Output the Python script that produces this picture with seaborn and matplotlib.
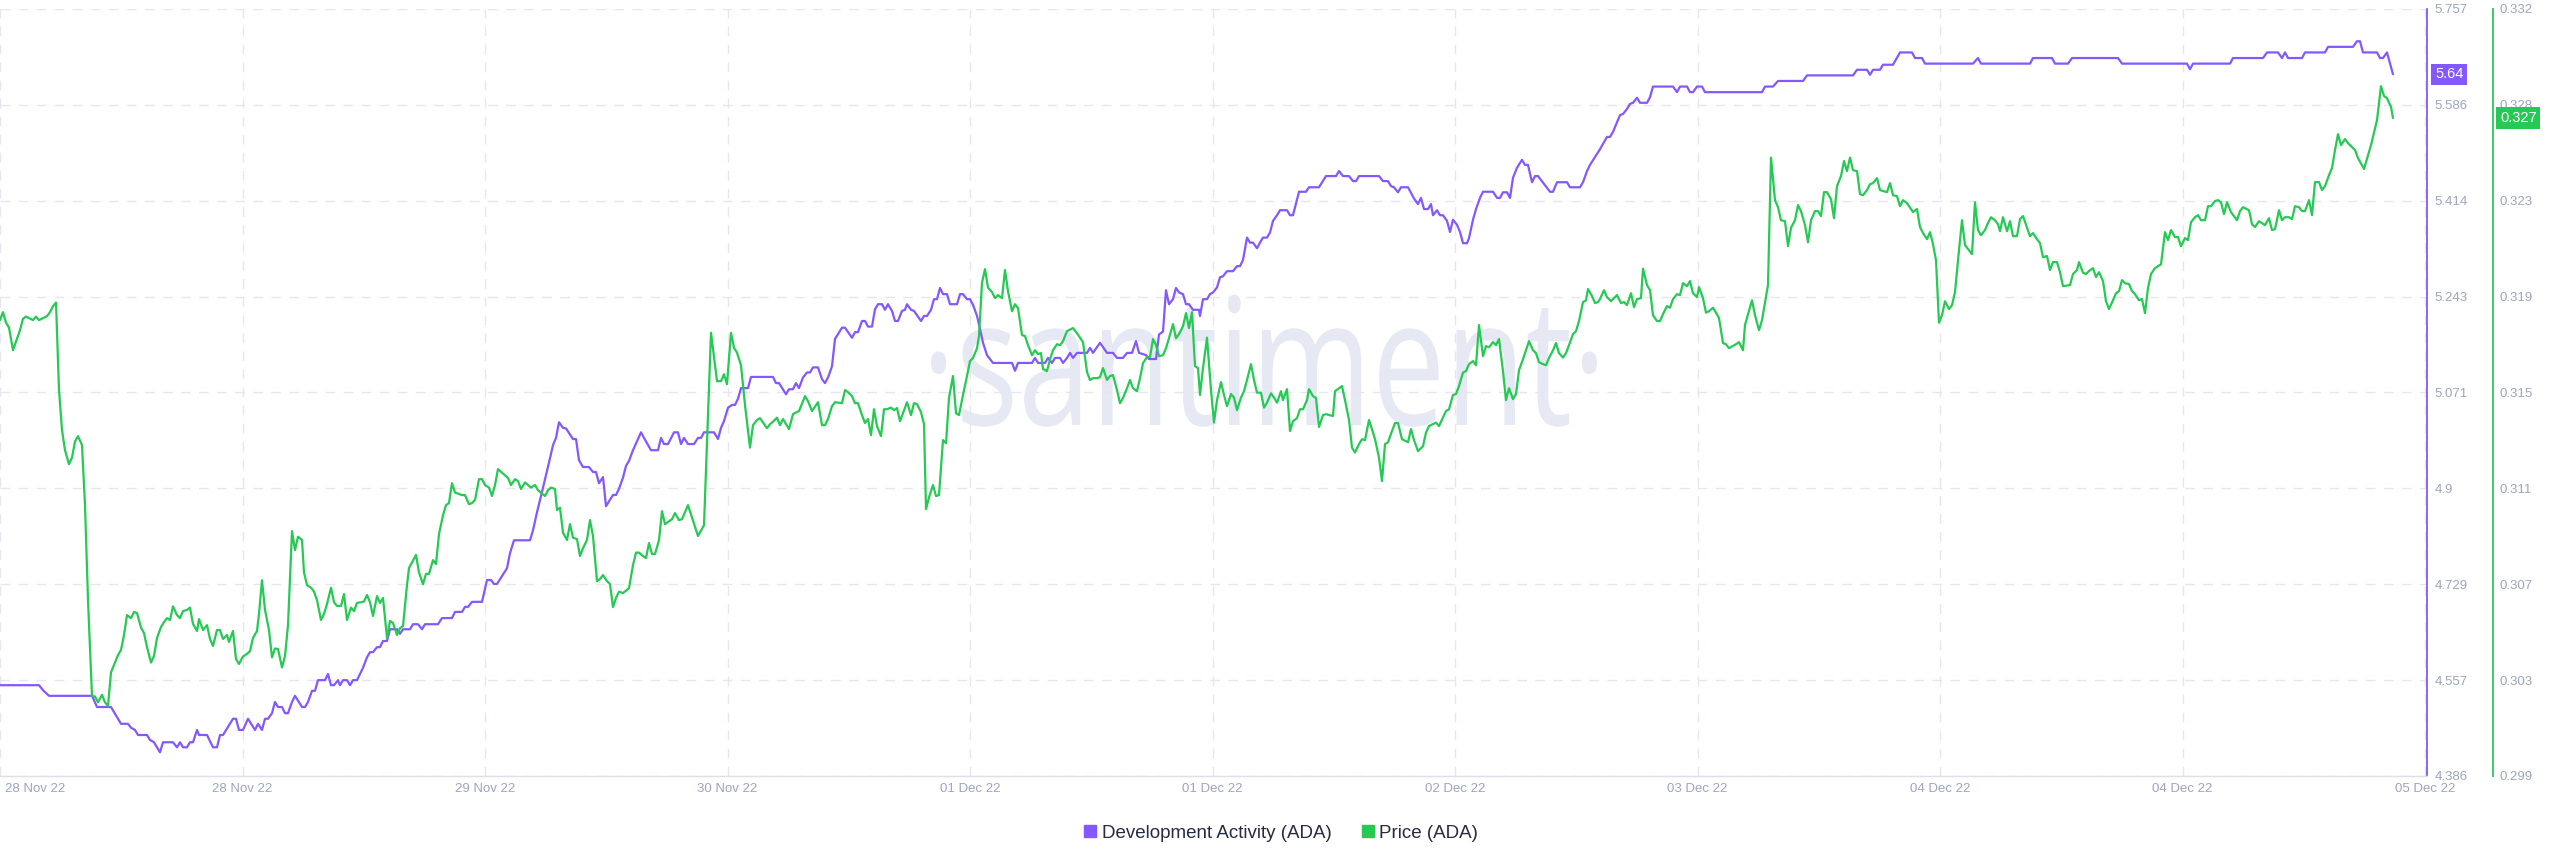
import numpy as np
import pandas as pd
import matplotlib
matplotlib.use("Agg")
import matplotlib.pyplot as plt
import matplotlib.transforms as mtrans
from matplotlib.lines import Line2D
from matplotlib.textpath import TextPath
from matplotlib.patches import PathPatch
from matplotlib.font_manager import FontProperties
import seaborn as sns

# ---------------- data ----------------
# time axis: one unit ~ 41.6 minutes from the start of 28 Nov 22
dev_t = [0.0, 3.9, 4.3, 4.9, 9.2, 9.7, 11.1, 12.1, 12.8, 13.1, 13.5, 13.8, 14.7, 15.0, 15.4, 16.0, 16.3, 17.3,
         17.7, 18.0, 18.3, 18.7, 19.0, 19.3, 19.7, 19.9, 20.7, 21.3, 21.7, 22.0, 22.3, 23.3, 23.6, 23.9, 24.3,
         24.8, 25.5, 25.8, 26.2, 26.5, 26.8, 27.2, 27.5, 27.8, 28.2, 28.5, 28.8, 29.2, 29.5, 30.2, 30.5, 30.8,
         31.2, 31.5, 31.8, 32.5, 32.8, 33.1, 33.4, 33.8, 34.0, 34.3, 34.7, 35.0, 35.3, 35.7, 36.3, 36.7, 37.0,
         37.3, 37.7, 38.0, 38.3, 38.7, 39.0, 39.7, 40.0,
         40.3, 41.0, 41.3, 41.8, 42.2, 42.5, 43.8, 44.2, 45.2, 45.5, 46.2, 46.5, 46.8, 47.2, 48.2, 48.7, 49.1,
         49.4, 49.7, 50.7, 51.0, 51.4, 53.0, 53.3, 53.7, 54.3, 54.9, 55.3, 55.6, 55.9, 56.3, 56.6, 57.3, 57.6,
         57.9, 58.3, 58.9, 59.3, 59.6, 59.9, 60.3, 60.6, 61.3, 61.6, 61.9, 62.3, 62.6, 62.9, 63.3, 64.1, 64.4,
         65.1, 65.8, 66.1, 66.4, 66.8, 67.4, 67.8, 68.1, 68.4, 68.8, 69.4, 69.8, 70.1, 70.4, 71.4, 71.8, 72.1,
         72.4, 72.8, 73.2, 73.5, 73.8, 74.1, 74.8, 75.1, 77.3, 77.6, 77.9, 78.6, 78.9, 79.3, 79.6, 79.9,
         80.3, 80.7, 81.0, 81.3, 81.8, 82.2, 82.5, 82.8, 83.2, 83.5, 84.2, 84.5, 85.2, 85.5, 85.8, 86.2, 86.5,
         86.8, 87.2, 87.5, 87.8, 88.2, 88.5, 88.8, 89.2, 89.5, 89.8, 90.2, 90.5, 90.7, 91.1, 91.4, 92.1, 92.4,
         92.7, 93.1, 93.4, 93.7, 94.0, 94.3, 94.7, 95.0, 95.7, 96.0, 96.3, 96.7, 97.0, 97.3, 97.7, 98.0, 98.3,
         98.7, 99.3, 101.2, 101.5, 101.8, 103.2, 103.5, 103.8, 104.5, 104.8, 105.2, 105.5, 106.0, 106.3, 106.7,
         107.0, 107.3, 107.7, 108.7, 109.0, 109.3, 110.0, 110.7, 111.3, 111.7, 112.3, 112.7, 113.2, 113.6,
         113.9, 114.6, 114.9, 115.6, 115.9, 116.3, 116.6, 116.9, 117.3, 117.6, 117.9, 118.3, 118.6, 118.9,
         119.3, 119.9,
         120.0, 120.3, 120.7, 121.0, 121.3, 121.7, 122.0, 122.3, 122.7, 123.3, 123.7, 124.0, 124.3, 124.7,
         125.0, 125.3, 125.7, 126.0, 126.3, 126.7, 127.0, 127.3, 127.7, 128.0, 128.7, 129.0, 129.3, 129.9,
         130.6, 130.9, 131.9, 132.6, 133.6, 133.9, 134.3, 134.9, 135.3, 135.6, 135.9, 137.9, 138.3, 138.8,
         139.1, 139.4, 139.8, 140.1, 140.8, 141.4, 141.8, 142.1, 142.4, 142.8, 143.1, 143.3, 143.7, 144.0,
         144.3, 144.7, 145.0, 145.3, 145.7, 146.0, 146.3, 146.7, 146.9, 147.3, 147.6, 148.0, 148.3, 149.3,
         149.7, 150.0, 150.3, 150.7, 151.0, 151.3, 151.7, 152.2, 152.5, 152.8, 153.2, 153.5, 153.8, 155.0,
         155.3, 155.7, 156.7, 157.0, 158.0, 158.3, 158.7, 159.0,
         160.0, 160.7, 161.0, 161.3, 162.0, 162.3, 162.7, 163.0, 163.3, 163.7, 164.0, 164.7, 165.0, 165.3,
         167.3, 167.7, 168.0, 168.7, 169.0, 169.3, 169.7, 170.2, 170.5, 176.2, 176.5, 177.3, 177.8, 180.3,
         180.7, 185.3, 185.7, 186.7, 187.0, 187.3, 188.0, 188.3, 189.3, 190.0, 191.2, 191.5, 192.2, 192.5,
         197.3, 197.8, 198.1,
         200.0, 203.0, 203.3, 205.2, 205.5, 206.8, 207.2, 211.8, 212.2, 218.7, 219.0, 219.3, 223.0, 223.3,
         226.3, 226.7, 227.8, 228.2, 228.5, 228.8, 230.2, 230.5, 232.5, 232.8, 235.3, 235.7, 236.0, 236.3,
         237.7, 238.0, 238.3, 238.7, 239.3]
dev_activity = [4.548, 4.548, 4.539, 4.529, 4.529, 4.509, 4.509, 4.479, 4.479, 4.472, 4.468, 4.459, 4.459, 4.450,
                4.446, 4.428, 4.446, 4.446, 4.437, 4.446, 4.437, 4.437, 4.446, 4.446, 4.468, 4.459, 4.459, 4.437,
                4.437, 4.459, 4.459, 4.488, 4.488, 4.468, 4.468, 4.488, 4.468, 4.479, 4.468, 4.488, 4.488, 4.498,
                4.518, 4.509, 4.509, 4.498, 4.498, 4.518, 4.529, 4.509, 4.509, 4.518, 4.538, 4.538, 4.557, 4.557,
                4.568, 4.548, 4.548, 4.557, 4.548, 4.557, 4.557, 4.548, 4.557, 4.557, 4.579, 4.598, 4.607, 4.607,
                4.616, 4.616, 4.627, 4.627, 4.648, 4.648, 4.640,
                4.648, 4.648, 4.657, 4.657, 4.648, 4.657, 4.657, 4.668, 4.668, 4.679, 4.679, 4.688, 4.688, 4.697,
                4.697, 4.736, 4.736, 4.729, 4.729, 4.757, 4.784, 4.807, 4.807, 4.825, 4.857, 4.901, 4.946, 4.977,
                4.990, 5.018, 5.008, 5.007, 4.988, 4.988, 4.950, 4.938, 4.938, 4.929, 4.929, 4.909, 4.920, 4.868,
                4.888, 4.888, 4.899, 4.919, 4.940, 4.949, 4.968, 5.000, 4.990, 4.968, 4.968, 4.990, 4.979, 4.979,
                5.000, 5.000, 4.979, 4.990, 4.979, 4.979, 4.990, 4.990, 5.000, 5.000, 4.988, 5.008, 5.020, 5.044,
                5.049, 5.049, 5.060, 5.079, 5.079, 5.099, 5.099, 5.088, 5.088, 5.068, 5.077, 5.077, 5.088, 5.079,
                5.098, 5.107, 5.107, 5.116, 5.116, 5.095, 5.088, 5.098, 5.118, 5.167, 5.187, 5.187, 5.169, 5.179,
                5.179, 5.199, 5.199, 5.189, 5.189, 5.220, 5.229, 5.229, 5.219, 5.229, 5.217, 5.199, 5.199, 5.217,
                5.219, 5.229, 5.219, 5.217, 5.199, 5.208, 5.208, 5.219, 5.238, 5.238, 5.258, 5.247, 5.247, 5.229,
                5.229, 5.247, 5.247, 5.238, 5.238, 5.228, 5.208, 5.185, 5.160, 5.138, 5.124, 5.124, 5.110, 5.124,
                5.124, 5.133, 5.124, 5.124, 5.133, 5.124, 5.133, 5.133, 5.124, 5.133, 5.142, 5.133, 5.142, 5.142,
                5.151, 5.142, 5.160, 5.142, 5.142, 5.133, 5.133, 5.142, 5.142, 5.163, 5.142, 5.138, 5.131, 5.131,
                5.175, 5.180, 5.254, 5.229, 5.238, 5.258, 5.250, 5.247, 5.229, 5.229, 5.219, 5.219,
                5.208, 5.238, 5.238, 5.247, 5.250, 5.259, 5.277, 5.279, 5.288, 5.288, 5.297, 5.297, 5.308, 5.348,
                5.339, 5.339, 5.329, 5.339, 5.348, 5.348, 5.357, 5.378, 5.388, 5.397, 5.397, 5.388, 5.388, 5.430,
                5.430, 5.438, 5.438, 5.458, 5.458, 5.467, 5.458, 5.458, 5.449, 5.449, 5.458, 5.458, 5.449, 5.449,
                5.440, 5.438, 5.429, 5.438, 5.438, 5.418, 5.408, 5.419, 5.399, 5.399, 5.408, 5.388, 5.397, 5.388,
                5.388, 5.378, 5.358, 5.380, 5.371, 5.358, 5.338, 5.338, 5.347, 5.380, 5.399, 5.419, 5.430, 5.430,
                5.419, 5.419, 5.429, 5.429, 5.419, 5.455, 5.473, 5.487, 5.478, 5.478, 5.447, 5.458, 5.458, 5.430,
                5.430, 5.447, 5.447, 5.438, 5.438, 5.447, 5.467, 5.478,
                5.506, 5.528, 5.528, 5.537, 5.567, 5.569, 5.578, 5.587, 5.589, 5.598, 5.589, 5.589, 5.599, 5.618,
                5.618, 5.608, 5.618, 5.618, 5.608, 5.608, 5.618, 5.618, 5.608, 5.608, 5.618, 5.618, 5.628, 5.628,
                5.638, 5.638, 5.648, 5.648, 5.639, 5.648, 5.648, 5.657, 5.657, 5.679, 5.679, 5.669, 5.669, 5.659,
                5.659, 5.669, 5.659,
                5.659, 5.659, 5.669, 5.669, 5.659, 5.659, 5.669, 5.669, 5.659, 5.659, 5.649, 5.659, 5.659, 5.669,
                5.669, 5.679, 5.679, 5.669, 5.679, 5.669, 5.669, 5.679, 5.679, 5.689, 5.689, 5.699, 5.699, 5.679,
                5.679, 5.669, 5.669, 5.679, 5.640]

price_t = [0.0, 0.3, 0.6, 0.9, 1.3, 2.0, 2.3, 2.6, 3.3, 3.6, 3.9, 4.7, 5.0, 5.3, 5.6, 5.9, 6.2, 6.5, 6.9, 7.2,
           7.5, 7.8, 8.2, 8.5, 8.8, 9.2, 9.5, 9.8, 10.2, 10.5, 10.8, 11.1, 11.5, 11.8, 12.1, 12.4, 12.7, 13.1,
           13.4, 13.7, 14.1, 14.4, 14.7, 15.1, 15.4, 15.7, 16.1, 16.4, 16.7, 17.0, 17.3, 17.7, 18.0, 18.3, 18.7,
           19.0, 19.3, 19.7, 19.9, 20.3, 20.7, 21.0, 21.3, 21.7, 22.0, 22.3, 22.7, 22.9, 23.3, 23.6, 23.9, 24.3,
           24.7, 25.0, 25.3, 25.7, 25.9, 26.2, 26.5, 26.9, 27.2, 27.5, 27.8, 28.2, 28.5, 28.8, 29.2, 29.5, 29.8,
           30.2, 30.4, 30.7, 31.1, 31.4, 31.7, 32.1, 32.4, 32.7, 33.1, 33.4, 33.7, 34.1, 34.4, 34.7, 35.1, 35.4,
           35.7, 36.1, 36.4, 36.7, 37.0, 37.3, 37.7, 38.0, 38.3, 38.7, 39.0, 39.3, 39.7, 40.0,
           40.3, 40.7, 40.9, 41.6, 41.9, 42.3, 42.6, 42.9, 43.3, 43.6, 43.9, 44.3, 44.6, 44.9, 45.2, 45.5, 46.2,
           46.5, 46.9, 47.2, 47.5, 47.9, 48.2, 48.5, 48.9, 49.2, 49.5, 49.8, 50.8, 51.1, 51.5, 51.8, 52.1, 52.5,
           53.1, 53.5, 53.8, 54.5, 54.8, 55.1, 55.5, 55.7, 56.0, 56.3, 56.7, 57.0, 57.3, 57.7, 58.0, 58.3, 58.7,
           59.0, 59.3, 59.7, 60.0, 60.3, 60.7, 61.0, 61.3, 61.6, 61.9, 62.3, 62.9, 63.3, 63.6, 63.9, 64.3, 64.6,
           64.9, 65.2, 65.5, 65.9, 66.2, 66.5, 67.2, 67.5, 67.9, 68.2, 68.8, 69.8, 70.4, 71.1, 71.7, 72.1, 72.4,
           72.7, 73.1, 73.4, 73.7, 74.1, 74.5, 75.0, 75.3, 75.7, 76.0, 76.7, 77.0, 77.3, 77.7, 78.0, 78.3, 78.9,
           79.3, 79.6, 79.9,
           80.5, 80.8, 81.2, 81.8, 82.2, 82.5, 82.8, 83.2, 83.5, 84.2, 84.5, 84.8, 85.2, 85.5, 85.8, 86.2, 86.5,
           86.8, 87.1, 87.4, 87.7, 88.1, 88.4, 88.7, 89.1, 89.4, 89.7, 90.0, 90.3, 90.7, 91.1, 91.4, 91.7, 92.1,
           92.4, 92.6, 92.9, 93.3, 93.6, 93.9, 94.3, 94.6, 94.9, 95.3, 95.6, 95.9, 96.3, 96.7, 97.0, 97.3, 97.7,
           97.9, 98.2, 98.5, 98.8, 99.2, 99.5, 99.8, 100.2, 100.5, 100.8, 101.2, 101.5, 101.8, 102.2, 102.5,
           102.8, 103.2, 103.5, 103.8, 104.1, 104.3, 104.7, 105.0, 105.3, 105.7, 106.0, 106.3, 106.7, 107.3,
           107.7, 108.3, 108.7, 109.0, 109.3, 109.7, 110.0, 110.3, 110.7, 111.0, 111.3, 111.7, 112.0, 112.3,
           112.7, 113.0, 113.3, 113.7, 114.0, 114.3, 114.7, 115.0, 115.3, 115.6, 115.9, 116.3, 116.6, 116.9,
           117.3, 117.6, 117.9, 118.3, 118.6, 118.9, 119.2, 119.5, 119.8,
           120.0, 120.3, 120.7, 121.1, 121.4, 121.7, 122.1, 122.4, 122.7, 123.1, 123.4, 123.7, 124.1, 124.4,
           124.7, 125.1, 125.4, 125.7, 126.1, 126.4, 126.7, 127.1, 127.4, 127.7, 128.1, 128.3, 128.7, 129.0,
           129.3, 129.7, 130.0, 130.3, 130.7, 130.9, 131.3, 131.6, 131.9, 132.3, 132.6, 133.3, 133.5, 134.2,
           134.5, 134.9, 135.2, 135.5, 135.9, 136.2, 136.5, 136.9, 137.2, 137.5, 137.9, 138.2, 138.5, 138.8,
           139.2, 139.5, 139.8, 140.2, 140.8, 141.1, 141.4, 141.8, 142.3, 142.6, 142.9, 143.6, 143.9, 144.6,
           144.9, 145.3, 145.6, 145.9, 146.3, 146.6, 146.9, 147.3, 147.6, 147.9, 148.3, 148.6, 148.9, 149.3,
           149.6, 149.9, 150.3, 150.6, 150.9, 151.3, 151.6, 151.9, 152.3, 152.6, 152.9, 153.3, 153.6, 153.9,
           154.3, 154.6, 154.9, 155.3, 155.6, 155.9, 156.3, 156.6, 156.9, 157.3, 157.6, 157.9, 158.3, 158.6,
           158.8, 159.2, 159.5, 159.8,
           160.0, 160.4, 160.7, 161.1, 161.7, 162.1, 162.4, 162.7, 163.1, 163.4, 163.7, 164.1, 164.3, 164.7,
           165.0, 165.3, 165.7, 166.0, 166.3, 166.7, 167.0, 167.3, 167.7, 168.0, 168.3, 168.7, 169.0, 169.3,
           169.7, 169.9, 170.3, 170.6, 170.9, 171.3, 171.6, 171.9, 172.3, 172.6, 172.9, 173.6, 173.9, 174.3,
           174.5, 175.2, 175.5, 175.9, 176.2, 176.8, 177.1, 177.5, 177.8, 178.1, 178.5, 178.8, 179.1, 179.5,
           179.8, 180.1, 180.5, 180.8, 181.1, 181.5, 181.8, 182.1, 182.4, 182.7, 183.1, 183.4, 183.7, 184.1,
           184.4, 184.7, 185.0, 185.3, 185.7, 186.0, 186.3, 186.7, 187.0, 187.3, 187.7, 188.0, 188.7, 189.0,
           189.3, 189.7, 190.0, 190.3, 190.7, 191.3, 191.7, 192.0, 192.3, 192.7, 193.0, 193.3, 193.6, 193.9,
           194.2, 194.5, 194.9, 195.2, 195.5, 195.9, 196.2, 196.5, 196.9, 197.2, 197.5, 197.8, 198.1, 198.5,
           198.8, 199.1, 199.5, 199.8,
           200.0, 200.3, 200.7, 201.0, 201.3, 201.7, 202.0, 202.3, 203.0, 203.3, 203.7, 204.0, 204.3, 204.7,
           205.0, 205.3, 205.7, 206.0, 206.3, 207.0, 207.3, 207.7, 207.9, 208.3, 208.6, 208.9, 209.3, 209.6,
           209.9, 210.3, 210.6, 210.9, 211.3, 211.6, 211.9, 212.2, 212.5, 212.9, 213.2, 213.5, 213.9, 214.2,
           214.5, 214.8, 215.1, 215.5, 216.1, 216.5, 216.8, 217.1, 217.5, 217.8, 218.1, 218.5, 218.8, 219.1,
           219.5, 219.8, 220.1, 220.5, 220.8, 221.1, 221.5, 221.8, 222.1, 222.4, 222.7, 223.1, 223.7, 224.0,
           224.3, 224.9, 225.2, 225.5, 225.9, 226.5, 226.9, 227.2, 227.5, 227.9, 228.2, 228.5, 228.9, 229.2,
           229.5, 229.9, 230.2, 230.5, 230.9, 231.2, 231.5, 231.9, 232.2, 232.5, 232.9, 233.2, 233.5, 233.8,
           234.1, 234.5, 234.8, 235.5, 235.8, 236.4, 237.1, 237.7, 238.1, 238.4, 238.7, 239.1, 239.3]
price = [0.31834, 0.31868, 0.31823, 0.31802, 0.31705, 0.31791, 0.31840, 0.31849, 0.31834, 0.31849, 0.31834,
         0.31851, 0.31868, 0.31894, 0.31909, 0.31535, 0.31364, 0.31278, 0.31218, 0.31246, 0.31315, 0.31338,
         0.31300, 0.31043, 0.30637, 0.30227, 0.30225, 0.30200, 0.30232, 0.30200, 0.30185, 0.30328, 0.30370,
         0.30402, 0.30424, 0.30488, 0.30573, 0.30560, 0.30586, 0.30582, 0.30520, 0.30496, 0.30436, 0.30370,
         0.30398, 0.30475, 0.30522, 0.30543, 0.30560, 0.30552, 0.30610, 0.30573, 0.30560, 0.30590, 0.30595,
         0.30605, 0.30535, 0.30505, 0.30556, 0.30509, 0.30530, 0.30471, 0.30441, 0.30509, 0.30509, 0.30471,
         0.30488, 0.30458, 0.30505, 0.30385, 0.30364, 0.30396, 0.30407, 0.30419, 0.30475, 0.30505, 0.30578,
         0.30722, 0.30595, 0.30509, 0.30392, 0.30430, 0.30428, 0.30349, 0.30398, 0.30530, 0.30932, 0.30851,
         0.30908, 0.30894, 0.30755, 0.30701, 0.30690, 0.30673, 0.30637, 0.30552, 0.30578, 0.30620, 0.30690,
         0.30628, 0.30612, 0.30612, 0.30663, 0.30552, 0.30605, 0.30590, 0.30625, 0.30628, 0.30631, 0.30659,
         0.30628, 0.30569, 0.30654, 0.30625, 0.30646, 0.30475, 0.30548, 0.30539, 0.30488, 0.30517,
         0.30526, 0.30701, 0.30774, 0.30830, 0.30755, 0.30705, 0.30749, 0.30749, 0.30808, 0.30791, 0.30919,
         0.31000, 0.31043, 0.31052, 0.31137, 0.31097, 0.31086, 0.31086, 0.31047, 0.31052, 0.31065, 0.31154,
         0.31154, 0.31129, 0.31118, 0.31082, 0.31129, 0.31197, 0.31159, 0.31129, 0.31154, 0.31146, 0.31112,
         0.31140, 0.31118, 0.31129, 0.31107, 0.31082, 0.31107, 0.31118, 0.31112, 0.31022, 0.31032, 0.30925,
         0.30894, 0.30962, 0.30904, 0.30898, 0.30825, 0.30859, 0.30894, 0.30979, 0.30911, 0.30718, 0.30727,
         0.30744, 0.30718, 0.30705, 0.30607, 0.30646, 0.30673, 0.30667, 0.30688, 0.30787, 0.30840, 0.30840,
         0.30825, 0.30817, 0.30881, 0.30834, 0.30834, 0.30894, 0.31017, 0.30962, 0.30983, 0.31009, 0.30979,
         0.30983, 0.31043, 0.30911, 0.30957, 0.31780, 0.31573, 0.31573, 0.31603, 0.31560, 0.31780, 0.31716,
         0.31695, 0.31641, 0.31471, 0.31289, 0.31385, 0.31407, 0.31415, 0.31372, 0.31389, 0.31400, 0.31417,
         0.31385, 0.31411, 0.31368, 0.31432, 0.31439, 0.31445,
         0.31509, 0.31488, 0.31445, 0.31483, 0.31385, 0.31385, 0.31411, 0.31466, 0.31483, 0.31479, 0.31535,
         0.31526, 0.31509, 0.31479, 0.31479, 0.31428, 0.31394, 0.31411, 0.31342, 0.31453, 0.31381, 0.31338,
         0.31453, 0.31453, 0.31460, 0.31449, 0.31458, 0.31402, 0.31436, 0.31483, 0.31428, 0.31479, 0.31475,
         0.31441, 0.31389, 0.31026, 0.31076, 0.31129, 0.31082, 0.31086, 0.31321, 0.31308, 0.31501, 0.31595,
         0.31436, 0.31428, 0.31514, 0.31595, 0.31659, 0.31672, 0.31714, 0.31766, 0.31994, 0.32052, 0.31973,
         0.31954, 0.31928, 0.31941, 0.31928, 0.32048, 0.31958, 0.31872, 0.31902, 0.31885, 0.31770, 0.31766,
         0.31727, 0.31684, 0.31705, 0.31689, 0.31693, 0.31625, 0.31616, 0.31667, 0.31705, 0.31731, 0.31727,
         0.31744, 0.31787, 0.31800, 0.31778, 0.31740, 0.31612, 0.31578, 0.31586, 0.31586, 0.31590, 0.31629,
         0.31578, 0.31595, 0.31599, 0.31535, 0.31479, 0.31501, 0.31543, 0.31578, 0.31543, 0.31530, 0.31586,
         0.31650, 0.31676, 0.31676, 0.31753, 0.31727, 0.31680, 0.31684, 0.31714, 0.31757, 0.31817, 0.31757,
         0.31774, 0.31808, 0.31864, 0.31800, 0.31868, 0.31637, 0.31629,
         0.31514, 0.31629, 0.31759, 0.31535, 0.31396, 0.31492, 0.31569, 0.31514, 0.31466, 0.31518, 0.31503,
         0.31449, 0.31503, 0.31530, 0.31578, 0.31646, 0.31578, 0.31524, 0.31524, 0.31460, 0.31481, 0.31521,
         0.31503, 0.31481, 0.31530, 0.31492, 0.31539, 0.31360, 0.31402, 0.31415, 0.31453, 0.31453, 0.31492,
         0.31539, 0.31509, 0.31501, 0.31377, 0.31428, 0.31432, 0.31424, 0.31530, 0.31552, 0.31492, 0.31407,
         0.31289, 0.31268, 0.31304, 0.31325, 0.31321, 0.31407, 0.31368, 0.31325, 0.31246, 0.31146, 0.31304,
         0.31312, 0.31360, 0.31394, 0.31394, 0.31325, 0.31312, 0.31368, 0.31321, 0.31274, 0.31295, 0.31353,
         0.31381, 0.31396, 0.31381, 0.31445, 0.31453, 0.31514, 0.31518, 0.31552, 0.31610, 0.31616, 0.31646,
         0.31659, 0.31641, 0.31813, 0.31680, 0.31723, 0.31718, 0.31740, 0.31727, 0.31753, 0.31616, 0.31492,
         0.31543, 0.31496, 0.31518, 0.31620, 0.31667, 0.31705, 0.31744, 0.31705, 0.31693, 0.31654, 0.31646,
         0.31641, 0.31672, 0.31705, 0.31736, 0.31693, 0.31674, 0.31693, 0.31727, 0.31774, 0.31787, 0.31830,
         0.31911, 0.31919, 0.31967, 0.31937, 0.31907, 0.31911,
         0.31924, 0.31962, 0.31932, 0.31915, 0.31941, 0.31907, 0.31911, 0.31898, 0.31949, 0.31889, 0.31924,
         0.31928, 0.32054, 0.31984, 0.31962, 0.31855, 0.31830, 0.31830, 0.31860, 0.31894, 0.31887, 0.31924,
         0.31945, 0.31941, 0.31992, 0.31979, 0.32001, 0.31949, 0.31932, 0.31975, 0.31928, 0.31866, 0.31872,
         0.31887, 0.31866, 0.31843, 0.31736, 0.31731, 0.31714, 0.31731, 0.31740, 0.31705, 0.31813, 0.31919,
         0.31855, 0.31791, 0.31834, 0.31984, 0.32529, 0.32347, 0.32317, 0.32261, 0.32257, 0.32150, 0.32229,
         0.32261, 0.32326, 0.32300, 0.32240, 0.32167, 0.32261, 0.32300, 0.32300, 0.32279, 0.32381, 0.32381,
         0.32351, 0.32270, 0.32407, 0.32450, 0.32514, 0.32471, 0.32529, 0.32475, 0.32471, 0.32373, 0.32368,
         0.32390, 0.32415, 0.32420, 0.32441, 0.32390, 0.32381, 0.32420, 0.32368, 0.32364, 0.32321, 0.32347,
         0.32334, 0.32296, 0.32309, 0.32232, 0.32206, 0.32180, 0.32210, 0.32159, 0.32090, 0.31823, 0.31855,
         0.31915, 0.31881, 0.31898, 0.31954, 0.32133, 0.32261, 0.32155, 0.32133, 0.32116, 0.32338, 0.32219,
         0.32197, 0.32219, 0.32249, 0.32274, 0.32261, 0.32244,
         0.32214, 0.32274, 0.32214, 0.32257, 0.32193, 0.32193, 0.32266, 0.32279, 0.32193, 0.32206, 0.32180,
         0.32163, 0.32103, 0.32108, 0.32048, 0.32082, 0.32082, 0.32039, 0.31979, 0.31984, 0.32031, 0.32048,
         0.32082, 0.32037, 0.32031, 0.32044, 0.32056, 0.32018, 0.32039, 0.32001, 0.31915, 0.31881, 0.31919,
         0.31949, 0.31958, 0.32005, 0.31992, 0.31988, 0.31958, 0.31945, 0.31919, 0.31924, 0.31864, 0.31971,
         0.32031, 0.32056, 0.32073, 0.32210, 0.32176, 0.32219, 0.32189, 0.32189, 0.32150, 0.32185, 0.32176,
         0.32253, 0.32274, 0.32283, 0.32261, 0.32261, 0.32321, 0.32321, 0.32343, 0.32347, 0.32338, 0.32287,
         0.32338, 0.32296, 0.32261, 0.32300, 0.32317, 0.32304, 0.32244, 0.32232, 0.32257, 0.32240, 0.32270,
         0.32219, 0.32223, 0.32304, 0.32261, 0.32274, 0.32274, 0.32266, 0.32321, 0.32317, 0.32300, 0.32300,
         0.32347, 0.32283, 0.32424, 0.32424, 0.32390, 0.32407, 0.32454, 0.32484, 0.32561, 0.32629, 0.32582,
         0.32608, 0.32591, 0.32561, 0.32527, 0.32480, 0.32582, 0.32689, 0.32834, 0.32792, 0.32783, 0.32745,
         0.32698]

x_tick_labels = ["28 Nov 22", "28 Nov 22", "29 Nov 22", "30 Nov 22", "01 Dec 22", "01 Dec 22",
                 "02 Dec 22", "03 Dec 22", "04 Dec 22", "04 Dec 22", "05 Dec 22"]
dev_range = (4.3857, 5.7570)
price_range = (0.29885, 0.33165)
series_names = ["Development Activity (ADA)", "Price (ADA)"]

# ---------------- style ----------------
PURPLE = "#8358FF"
GREEN = "#26C953"
TICK_C = "#9DA5BE"
GRID_C = "#E4E7F1"
W, H = 2560, 867

sns.set_theme(style="white")
plt.rcParams["font.family"] = ["Liberation Sans", "DejaVu Sans"]

fig = plt.figure(figsize=(W / 100, H / 100), dpi=100)
fig.patch.set_facecolor("white")
ax = fig.add_axes([0.0, (H - 776) / H, 2427 / W, (776 - 8.8) / H])
ax.set_facecolor("white")
ax2 = ax.twinx()

dev_df = pd.DataFrame({"t": dev_t, "v": dev_activity})
price_df = pd.DataFrame({"t": price_t, "v": price})

sns.lineplot(data=dev_df, x="t", y="v", ax=ax, color=PURPLE, linewidth=1.6,
             sort=False, estimator=None, legend=False, zorder=3)
sns.lineplot(data=price_df, x="t", y="v", ax=ax2, color=GREEN, linewidth=1.6,
             sort=False, estimator=None, legend=False, zorder=3)

xmax = 242.7
ax.set_xlim(0, xmax)
ax.set_ylim(*dev_range)
ax2.set_ylim(*price_range)

xt = np.linspace(0, 242.5, len(x_tick_labels))
ax.set_xticks(xt)
ax.set_xticklabels(x_tick_labels)
ax.set_xlabel("")
ax.set_ylabel("")
ax2.set_ylabel("")

def fmt(v):
    return f"{v:.3f}".rstrip("0").rstrip(".")

dev_ticks = np.linspace(dev_range[0], dev_range[1], 9)
price_ticks = np.linspace(price_range[0], price_range[1], 9)
ax.set_yticks(dev_ticks)
ax.set_yticklabels([fmt(v) for v in dev_ticks])
ax2.set_yticks(price_ticks)
ax2.set_yticklabels([f"{v:.3f}" for v in price_ticks])

ax.yaxis.tick_right()
ax.yaxis.set_label_position("right")
ax.tick_params(axis="y", which="both", length=0, pad=5.5, labelsize=9.5, labelcolor=TICK_C)
ax.tick_params(axis="x", which="both", length=0, pad=5, labelsize=9.5, labelcolor=TICK_C)
ax2.tick_params(axis="y", which="both", length=0, pad=5, labelsize=9.5, labelcolor=TICK_C)
first = ax.get_xticklabels()[0]
first.set_horizontalalignment("left")
first.set_transform(first.get_transform() + mtrans.ScaledTranslation(5 / 100, 0, fig.dpi_scale_trans))

# grid
ax.grid(True, axis="both", color=GRID_C, linestyle=(0, (7, 6)), linewidth=1.0)
ax.set_axisbelow(True)
ax2.grid(False)

# spines
for sp in ["top", "left"]:
    ax.spines[sp].set_visible(False)
    ax2.spines[sp].set_visible(False)
ax.spines["bottom"].set_color("#DDE0EA")
ax.spines["bottom"].set_linewidth(1.0)
ax2.spines["bottom"].set_visible(False)
ax.spines["right"].set_color(PURPLE)
ax.spines["right"].set_linewidth(1.3)
ax2.spines["right"].set_position(("axes", 2493 / 2427))
ax2.spines["right"].set_color(GREEN)
ax2.spines["right"].set_linewidth(1.3)

# last value labels
blend1 = mtrans.blended_transform_factory(ax.transAxes, ax.transData)
ax.text(2435 / 2427, dev_activity[-1], f"{dev_activity[-1]:.2f}", transform=blend1,
        ha="left", va="center", fontsize=10.5, color="white", clip_on=False, zorder=10,
        bbox=dict(boxstyle="square,pad=0.25", fc=PURPLE, ec="none"))
blend2 = mtrans.blended_transform_factory(ax2.transAxes, ax2.transData)
ax2.text(2500 / 2427, price[-1], f"{price[-1]:.3f}", transform=blend2,
         ha="left", va="center", fontsize=10.5, color="white", clip_on=False, zorder=10,
         bbox=dict(boxstyle="square,pad=0.25", fc=GREEN, ec="none"))

# watermark
tp = TextPath((0, 0), "·santiment·", size=100, prop=FontProperties(family="Open Sans"))
bb = tp.get_extents()
xh = TextPath((0, 0), "x", size=100, prop=FontProperties(family="Open Sans")).get_extents().height
sx = (1597 - 931) / bb.width
sy = 95 / xh
tr = (mtrans.Affine2D().translate(-bb.x0, 0).scale(sx / W, sy / H)
      .translate(931 / W, (H - 425) / H) + fig.transFigure)
wm = PathPatch(tp, transform=tr, facecolor="#E6E9F3", edgecolor="none", zorder=0.5, clip_on=False)
ax.add_patch(wm)

# legend
handles = [Line2D([], [], marker="s", linestyle="None", color=PURPLE, markersize=9),
           Line2D([], [], marker="s", linestyle="None", color=GREEN, markersize=9)]
fig.legend(handles, series_names, loc="center", bbox_to_anchor=(0.5, (H - 833) / H), ncol=2,
           frameon=False, fontsize=13.5, handletextpad=0.15, columnspacing=1.5, handlelength=0.9,
           labelcolor="#262B40")

fig.savefig("out.png", dpi=100, facecolor="white")
